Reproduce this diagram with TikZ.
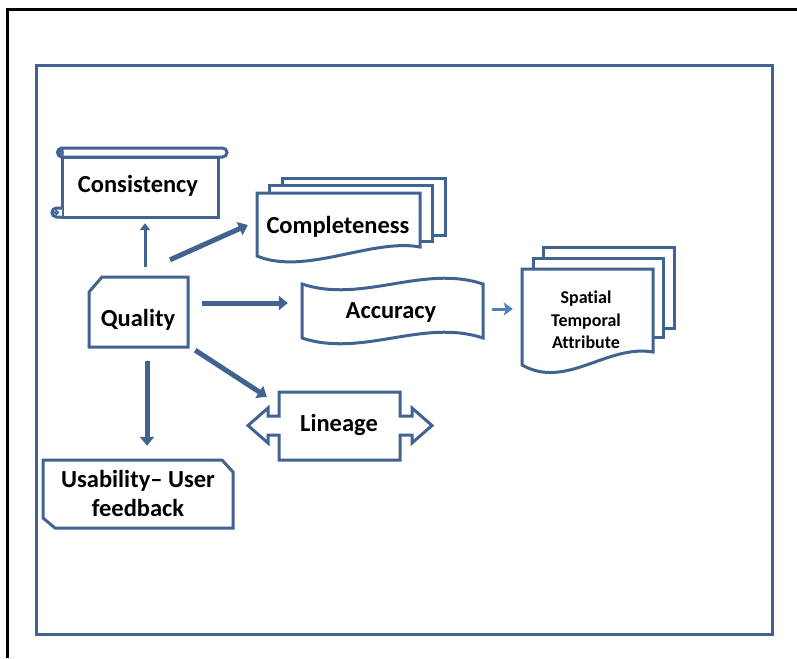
\documentclass[tikz,border=0pt]{standalone}
\usepackage{fontspec}
\setmainfont[Ligatures=NoCommon]{Carlito}
\usetikzlibrary{arrows.meta}
\definecolor{shpblue}{RGB}{64,99,145}
\definecolor{litblue}{RGB}{79,129,189}
\begin{document}
\begin{tikzpicture}[x=1pt,y=-1pt,
  shp/.style={draw=shpblue,line width=3pt,fill=white,line join=miter},
  frame/.style={draw=shpblue,line width=3pt},
  area/.style={draw=none,inner sep=0pt,minimum width=#1},
  lbl/.style={font=\bfseries\fontsize{24.5}{28}\selectfont,text=black,align=center,inner sep=0pt},
  small/.style={font=\bfseries\fontsize{18}{22.5}\selectfont,text=black,align=center,inner sep=0pt},
  thick arr/.style={draw=shpblue,line width=5pt,-{Triangle[width=14pt,length=9pt]}},
  thin arr/.style={draw=shpblue,line width=3pt,-{Triangle[width=10pt,length=7pt]}},
  lite arr/.style={draw=litblue,line width=3pt,-{Stealth[width=13pt,length=9pt,inset=2pt]}}]
\useasboundingbox (0,0) rectangle (797,658);
% outer frames
\draw[black,line width=2.5pt] (7.5,658) -- (7.5,9.5) -- (797,9.5);
\draw[frame] (36,66) rectangle (772,634);

% ---- Consistency (horizontal scroll)
\draw[shp] (62,157) rectangle (218,217);
\draw[shp] (62,148) -- (222.5,148) arc (-90:90:4.5) -- (62,157) -- cycle;
\draw[shp] (62,148) arc (-90:-270:4.5);
\draw[shpblue,line width=1.5pt] (61,152.5) circle (1.8);
\draw[shp] (62,217) -- (56.5,217) arc (90:270:4.5) -- (62,208);
\draw[shpblue,line width=1.5pt] (56.5,212.5) circle (1.8);
\node[area=156pt,minimum height=60pt] (cons) at (140,187) {};
\node[lbl] (cons-t) at (138,186) {Consistency};

% ---- Completeness (multi document)
\draw[shp] (282,178) rectangle (445,235);
\draw[shp] (269,185) rectangle (432,241);
\draw[shp] (257,193) -- (420,193) -- (420,247) .. controls (372,238) and (305,276) .. (257,256) -- cycle;
\node[area=163pt,minimum height=68pt] (comp) at (338.5,227) {};
\node[lbl] (comp-t) at (338,227) {Completeness};

% ---- Quality (snipped corner)
\draw[shp] (102,277) -- (188,277) -- (188,347) -- (89,347) -- (89,292) -- cycle;
\node[area=99pt,minimum height=70pt] (q) at (138.5,312) {};
\node[lbl] (q-t) at (138,320) {Quality};

% ---- Accuracy (wave)
\draw[shp] (302,284) .. controls (362,304) and (423,264) .. (483,284) -- (483,338)
  .. controls (423,318) and (362,358) .. (302,338) -- cycle;
\node[area=181pt,minimum height=54pt] (acc) at (392.5,311) {};
\node[lbl] (acc-t) at (391,312) {Accuracy};

% ---- Spatial / Temporal / Attribute (multi document)
\draw[shp] (543,247) rectangle (674,328);
\draw[shp] (533,258) rectangle (663,337);
\draw[shp] (522,269) -- (653,269) -- (653,352) .. controls (607,344) and (566,390) .. (522,365) -- cycle;
\node[area=131pt,minimum height=96pt] (spat) at (587.5,317) {};
\node[small] (spat-t) at (586,320) {Spatial\\Temporal\\Attribute};

% ---- Lineage (left-right arrow callout)
\draw[shp] (279,392) -- (400,392) -- (400,416) -- (412,416) -- (412,408) -- (432,425.5)
  -- (412,443) -- (412,435) -- (400,435) -- (400,460) -- (279,460) -- (279,435)
  -- (268,435) -- (268,443) -- (248,425.5) -- (268,408) -- (268,416) -- (279,416) -- cycle;
\node[area=121pt,minimum height=68pt] (lin) at (339.5,426) {};
\node[lbl] (lin-t) at (339,425) {Lineage};

% ---- Usability (snip diagonal corners)
\draw[shp] (43,460) -- (222,460) -- (233,472) -- (233,528) -- (55,528) -- (43,518) -- cycle;
\node[area=190pt,minimum height=68pt] (usab) at (138,494) {};
\node[lbl,font=\bfseries\fontsize{24.5}{29}\selectfont] (usab-t) at (138,493.5) {Usability– User\\feedback};

% ---- connectors
\draw[thin arr] ([xshift=6.5pt,yshift=10pt]q.north) -- ([xshift=5pt,yshift=-6pt]cons.south);
\draw[thick arr] ([xshift=31.5pt,yshift=17pt]q.north) -- ([xshift=-9pt,yshift=2pt]comp.west);
\draw[thick arr] ([xshift=14pt,yshift=9pt]q.east) -- ([xshift=-14pt,yshift=8pt]acc.west);
\draw[thick arr] ([xshift=7pt,yshift=-3pt]q.south east) -- ([xshift=-12pt,yshift=-5pt]lin.north west);
\draw[thick arr] ([xshift=8.5pt,yshift=-14pt]q.south) -- ([xshift=9pt,yshift=14pt]usab.north);
\draw[lite arr] ([xshift=9pt,yshift=2pt]acc.east) -- ([xshift=-9pt,yshift=8pt]spat.west);
\end{tikzpicture}
\end{document}
